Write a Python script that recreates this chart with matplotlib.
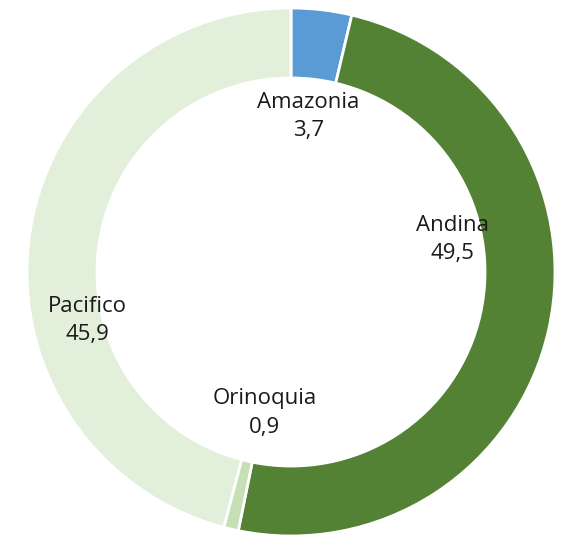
import matplotlib.pyplot as plt

# Participación por región
regiones = ["Amazonia", "Andina", "Orinoquia", "Pacifico"]
valores = [3.7, 49.5, 0.9, 45.9]
colores = ["#5B9BD5", "#548235", "#C5E0B4", "#E2EFDA"]

# posición de cada etiqueta (radio unitario), puesta a mano como en el original
pos_etiquetas = [(0.065, 0.588), (0.61, 0.122), (-0.099, -0.534), (-0.771, -0.183)]

W, H = 565, 549
fig = plt.figure(figsize=(W / 100, H / 100), dpi=100)
cx, cy, R = 291, 272, 264
ax = fig.add_axes([(cx - R) / W, (H - cy - R) / H, 2 * R / W, 2 * R / H])

ax.pie(valores, colors=colores, startangle=90, counterclock=False,
       radius=1.0, wedgeprops=dict(width=0.265, edgecolor="white", linewidth=2))

for reg, val, (x, y) in zip(regiones, valores, pos_etiquetas):
    txt = reg + "\n" + str(val).replace(".", ",")
    ax.text(x, y, txt, ha="center", va="center", fontsize=16,
            family="Open Sans", color="#1a1a1a", linespacing=1.45)

ax.set_xlim(-1, 1)
ax.set_ylim(-1, 1)
ax.set_aspect("auto")
ax.axis("off")

fig.savefig("out.png", dpi=100)
